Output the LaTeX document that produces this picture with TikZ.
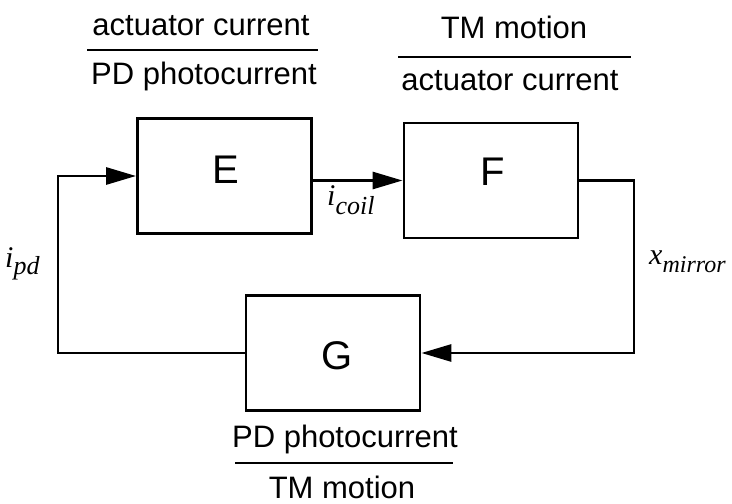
\documentclass[tikz,border=0pt]{standalone}
\usepackage{fontspec}
\setmainfont{Liberation Sans}
\newfontfamily\mathserif{Liberation Serif}
\usetikzlibrary{arrows.meta}
\begin{document}
\begin{tikzpicture}[x=1pt,y=-1pt,
  blk/.style={draw, line width=2.9pt, minimum width=174pt, minimum height=115pt, inner sep=0pt},
  sig/.style={line width=2.9pt, -{Triangle[length=30pt,width=17pt]}},
  frac/.style={font=\fontsize{31}{36}\selectfont, anchor=base, inner sep=0pt},
  letter/.style={font=\fontsize{40}{46}\selectfont, anchor=base, inner sep=0pt},
  var/.style={font=\mathserif\itshape\fontsize{30}{34}\selectfont, anchor=base west, inner sep=0pt},
  fracrule/.style={line width=2.2pt}]
\useasboundingbox (0,0) rectangle (732,504);
% blocks
\node[blk] (E) at (224.5,176) {};
\node[blk] (F) at (491,180.5) {};
\node[blk] (G) at (333,353) {};
\node[letter] (Et) at (226,183) {E};
\node[letter] (Ft) at (493,185) {F};
\node[letter] (Gt) at (337,369) {G};
% connectors
\coordinate (fr) at (634,180.5);
\coordinate (gl) at (58,353);
\draw[sig] (E.east |- F.west) -- (F.west);
\draw[sig] (F.east) -- (fr) |- (G.east);
\draw[sig] (G.west) -- (gl) |- (E.west);
% fractions
\node[frac] (f1a) at (201,35) {actuator current};
\node[frac] (f1b) at (204,84) {PD photocurrent};
\coordinate (r1a) at (87,50); \coordinate (r1b) at (318,50);
\draw[fracrule] (r1a) -- (r1b);
\node[frac] (f2a) at (514,38) {TM motion};
\node[frac] (f2b) at (510,90) {actuator current};
\coordinate (r2a) at (398,57); \coordinate (r2b) at (631,57);
\draw[fracrule] (r2a) -- (r2b);
\node[frac] (f3a) at (345,447) {PD photocurrent};
\node[frac] (f3b) at (342,498) {TM motion};
\coordinate (r3a) at (235,463); \coordinate (r3b) at (453,463);
\draw[fracrule] (r3a) -- (r3b);
% signal labels
\node[var] (icoil) at (327,205) {i\raisebox{-9pt}{\fontsize{26}{30}\selectfont coil}};
\node[var] (ipd) at (5,267) {i\raisebox{-7pt}{\fontsize{26}{30}\selectfont pd}};
\node[var] (xm) at (649,264) {x\raisebox{-8pt}{\fontsize{24}{28}\selectfont mirror}};
\end{tikzpicture}
\end{document}
